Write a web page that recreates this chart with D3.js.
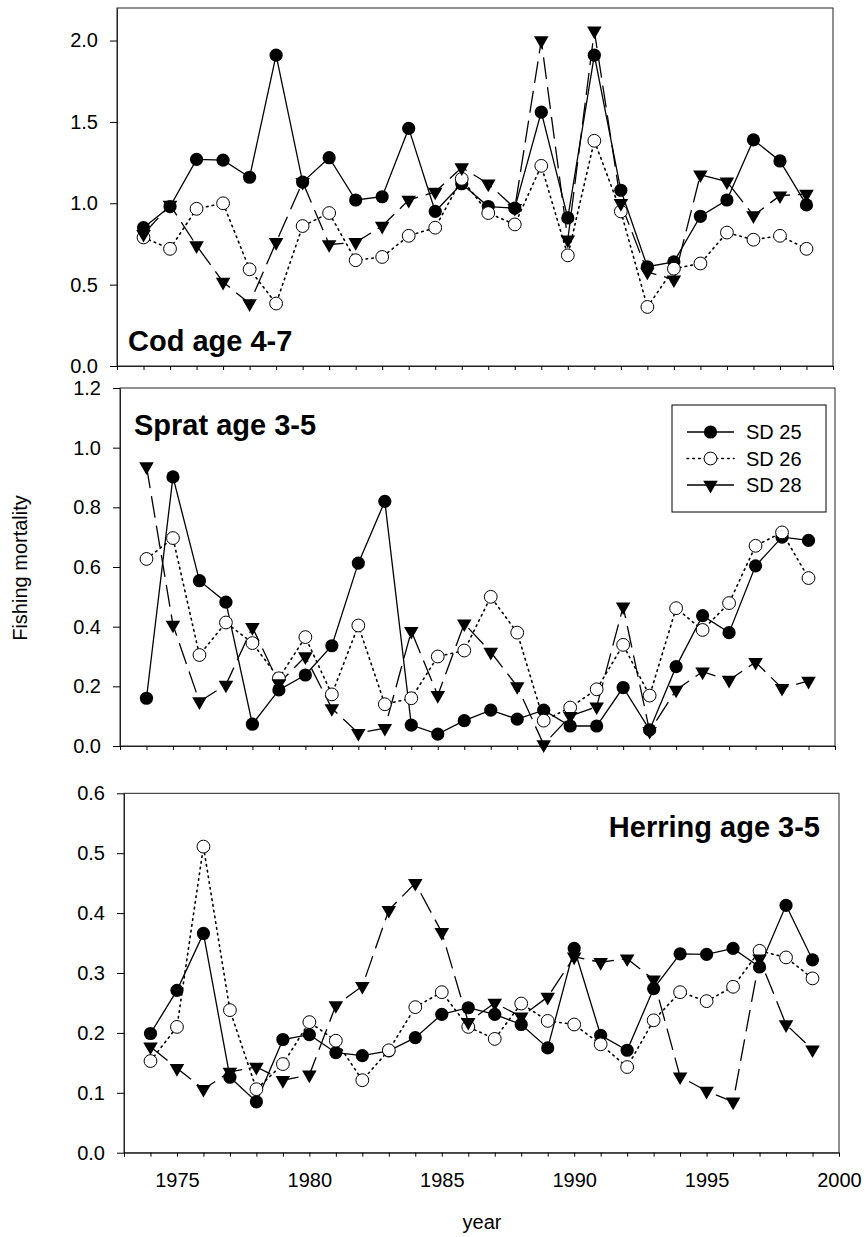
<!DOCTYPE html>
<html>
    <head>
        <title>Fishing mortality</title>
        <meta charset="UTF-8">
        <script src="https://d3js.org/d3.v7.min.js"></script>
        <style>
            body { margin: 0; background: #fff; }
            text { font-family: Arial, "Liberation Sans", sans-serif; }
        </style>
    </head>
    <body>
        <script>
            // years 1974..1999
            var years = d3.range(1974, 2000);
            var xTicks = d3.range(1973, 2001);
            var seriesNames = ["SD 25", "SD 26", "SD 28"];

            var cod25 = [0.85, 0.98, 1.27, 1.265, 1.16, 1.91, 1.13, 1.28, 1.02, 1.04, 1.46, 0.95, 1.12, 0.98, 0.97, 1.56, 0.91, 1.91, 1.08, 0.61, 0.64, 0.92, 1.02, 1.39, 1.26, 0.99];
            var cod26 = [0.79, 0.72, 0.966, 1.0, 0.594, 0.384, 0.86, 0.94, 0.65, 0.67, 0.80, 0.85, 1.15, 0.94, 0.87, 1.23, 0.68, 1.384, 0.95, 0.363, 0.598, 0.63, 0.82, 0.776, 0.80, 0.72];
            var cod28 = [0.81, 0.99, 0.74, 0.516, 0.384, 0.76, 1.13, 0.747, 0.76, 0.86, 1.02, 1.07, 1.22, 1.12, 0.97, 2.0, 0.776, 2.06, 1.0, 0.578, 0.531, 1.176, 1.133, 0.925, 1.047, 1.057];

            var sprat25 = [0.16, 0.902, 0.554, 0.482, 0.073, 0.188, 0.238, 0.336, 0.613, 0.82, 0.07, 0.04, 0.085, 0.12, 0.09, 0.12, 0.067, 0.067, 0.196, 0.054, 0.266, 0.437, 0.38, 0.604, 0.70, 0.689];
            var sprat26 = [0.627, 0.697, 0.305, 0.414, 0.345, 0.227, 0.365, 0.173, 0.404, 0.14, 0.16, 0.30, 0.32, 0.50, 0.38, 0.085, 0.129, 0.19, 0.339, 0.169, 0.462, 0.389, 0.479, 0.671, 0.716, 0.563];
            var sprat28 = [0.937, 0.406, 0.149, 0.205, 0.398, 0.21, 0.30, 0.126, 0.043, 0.06, 0.385, 0.17, 0.41, 0.315, 0.20, 0.005, 0.10, 0.132, 0.467, 0.05, 0.188, 0.249, 0.221, 0.281, 0.194, 0.218];

            var herring25 = [0.199, 0.271, 0.366, 0.126, 0.085, 0.189, 0.197, 0.167, 0.162, 0.17, 0.192, 0.231, 0.242, 0.231, 0.214, 0.175, 0.341, 0.196, 0.171, 0.274, 0.332, 0.331, 0.341, 0.31, 0.413, 0.322];
            var herring26 = [0.153, 0.21, 0.511, 0.238, 0.106, 0.148, 0.218, 0.187, 0.121, 0.171, 0.243, 0.268, 0.21, 0.19, 0.249, 0.22, 0.214, 0.181, 0.143, 0.221, 0.268, 0.253, 0.277, 0.337, 0.326, 0.291];
            var herring28 = [0.177, 0.141, 0.106, 0.135, 0.143, 0.121, 0.13, 0.246, 0.278, 0.405, 0.45, 0.368, 0.218, 0.25, 0.227, 0.26, 0.327, 0.318, 0.324, 0.289, 0.127, 0.103, 0.085, 0.324, 0.214, 0.172];

            var codTicks = [0, 0.5, 1.0, 1.5, 2.0];
            var spratTicks = [0, 0.2, 0.4, 0.6, 0.8, 1.0, 1.2];
            var herringTicks = [0, 0.1, 0.2, 0.3, 0.4, 0.5, 0.6];

            var W = 865, H = 1237;
            var svg = d3.select("body").append("svg")
                    .attr("width", W)
                    .attr("height", H);

            var dashes = ["none", "1.6,4.2", "22,8"];

            var panels = [
                {title: "Cod age 4-7", data: [cod25, cod26, cod28], ticks: codTicks, yMax: 2.2,
                 left: 117, right: 833, top: 8, bottom: 366, tx: 11, ty: 351, anchor: "start", labels: false},
                {title: "Sprat age 3-5", data: [sprat25, sprat26, sprat28], ticks: spratTicks, yMax: 1.2,
                 left: 120, right: 835, top: 388, bottom: 746, tx: 14, ty: 435, anchor: "start", labels: false},
                {title: "Herring age 3-5", data: [herring25, herring26, herring28], ticks: herringTicks, yMax: 0.6,
                 left: 124, right: 839, top: 793.3, bottom: 1152.7, tx: -19, ty: 837, anchor: "end", labels: true}
            ];

            function drawMarker(g, k, x, y) {
                if (k == 0) {
                    g.append("circle").attr("cx", x).attr("cy", y).attr("r", 6.6)
                        .attr("fill", "#000");
                } else if (k == 1) {
                    g.append("circle").attr("cx", x).attr("cy", y).attr("r", 6.4)
                        .attr("fill", "#fff").attr("stroke", "#000").attr("stroke-width", 1);
                } else {
                    g.append("path")
                        .attr("d", d3.symbol().type(d3.symbolTriangle).size(92)())
                        .attr("transform", "translate(" + x + "," + y + ") rotate(180)")
                        .attr("fill", "#000");
                }
            }

            panels.forEach(function(p) {
                var x = d3.scaleLinear().domain([1973, 2000]).range([p.left, p.right]);
                var y = d3.scaleLinear().domain([0, p.yMax]).range([p.bottom, p.top]);
                var g = svg.append("g");

                // frame
                g.append("rect")
                    .attr("x", p.left).attr("y", p.top)
                    .attr("width", p.right - p.left).attr("height", p.bottom - p.top)
                    .attr("fill", "none").attr("stroke", "#222").attr("stroke-width", 1);

                var yAxis = d3.axisLeft(y).tickValues(p.ticks).tickSize(7).tickSizeOuter(0)
                        .tickPadding(12).tickFormat(d3.format(".1f"));
                var ya = g.append("g").attr("transform", "translate(" + p.left + ",0)").call(yAxis);
                ya.selectAll("text").attr("font-size", 20).attr("fill", "#000")
                    .attr("font-family", "Arial, 'Liberation Sans', sans-serif");
                ya.select(".domain").attr("stroke", "#222");

                var xAxis = d3.axisBottom(x).tickValues(xTicks).tickSize(4).tickSizeOuter(0)
                        .tickPadding(16)
                        .tickFormat(function(d) { return (p.labels && d % 5 == 0 && d > 1973) ? d : ""; });
                var xa = g.append("g").attr("transform", "translate(0," + p.bottom + ")").call(xAxis);
                xa.selectAll("text").attr("font-size", 20).attr("fill", "#000")
                    .attr("font-family", "Arial, 'Liberation Sans', sans-serif");
                xa.select(".domain").attr("stroke", "#222");

                // lines
                var line = d3.line()
                    .x(function(d, i) { return x(years[i]); })
                    .y(function(d) { return y(d); });
                p.data.forEach(function(s, k) {
                    g.append("path")
                        .datum(s)
                        .attr("d", line)
                        .attr("fill", "none")
                        .attr("stroke", "#000")
                        .attr("stroke-width", k == 1 ? 1.6 : 1.3)
                        .attr("stroke-linecap", k == 1 ? "round" : "butt")
                        .attr("stroke-dasharray", dashes[k]);
                });
                // markers
                p.data.forEach(function(s, k) {
                    s.forEach(function(v, i) {
                        drawMarker(g, k, x(years[i]), y(v));
                    });
                });

                g.append("text")
                    .attr("x", p.anchor == "start" ? p.left + p.tx : p.right + p.tx)
                    .attr("y", p.ty)
                    .attr("text-anchor", p.anchor)
                    .attr("font-size", 29)
                    .attr("font-weight", "bold")
                    .text(p.title);
            });

            // legend in sprat panel
            var leg = svg.append("g");
            leg.append("rect")
                .attr("x", 672).attr("y", 405).attr("width", 154).attr("height", 107)
                .attr("fill", "#fff").attr("stroke", "#000").attr("stroke-width", 1);
            seriesNames.forEach(function(name, k) {
                var ly = 432 + k * 26.5;
                leg.append("line")
                    .attr("x1", 687).attr("x2", 734).attr("y1", ly).attr("y2", ly)
                    .attr("stroke", "#000")
                    .attr("stroke-width", k == 1 ? 1.6 : 1.3)
                    .attr("stroke-linecap", k == 1 ? "round" : "butt")
                    .attr("stroke-dasharray", k == 1 ? dashes[1] : "none");
                drawMarker(leg, k, 710.5, ly);
                leg.append("text")
                    .attr("x", 746).attr("y", ly + 7)
                    .attr("font-size", 20)
                    .text(name);
            });

            // axis titles
            svg.append("text")
                .attr("transform", "translate(27,568) rotate(-90)")
                .attr("text-anchor", "middle")
                .attr("font-size", 20)
                .text("Fishing mortality");
            svg.append("text")
                .attr("x", 482).attr("y", 1229)
                .attr("text-anchor", "middle")
                .attr("font-size", 20)
                .text("year");
        </script>
    </body>
</html>
